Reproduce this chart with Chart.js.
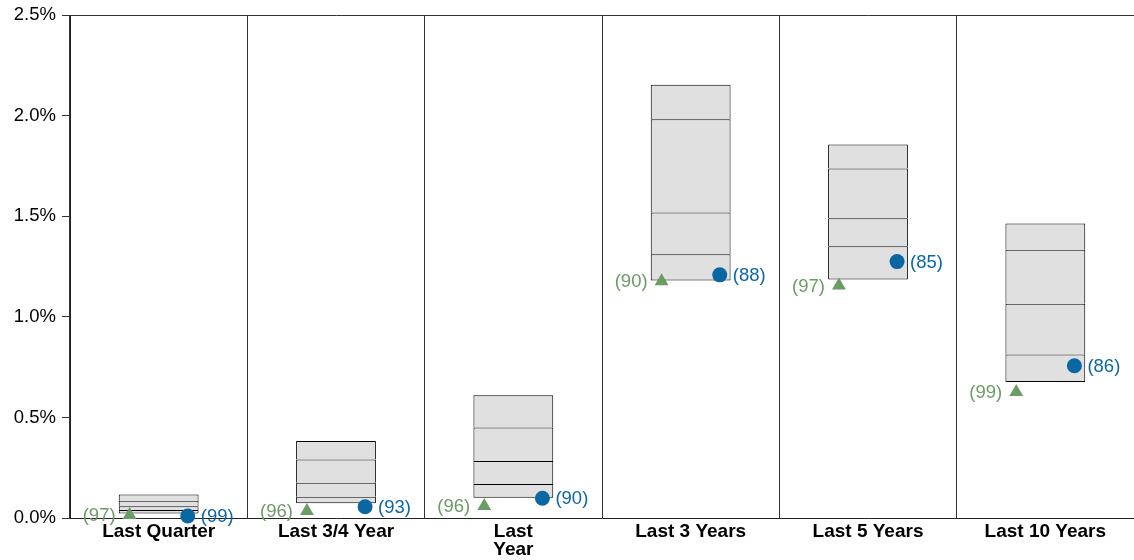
<!DOCTYPE html>
<html>
<head>
<meta charset="utf-8">
<script src="https://cdn.jsdelivr.net/npm/chart.js@4/dist/chart.umd.min.js"></script>
<style>
  html, body { margin: 0; padding: 0; background: #fff; overflow: hidden; }
  canvas { display: block; }
</style>
</head>
<body>
<canvas id="chart" width="1134" height="560"></canvas>
<script>
// periods on the x axis
var categories = ['Last Quarter', 'Last 3/4 Year', ['Last', 'Year'], 'Last 3 Years', 'Last 5 Years', 'Last 10 Years'];
var yTicks = [0, 0.5, 1.0, 1.5, 2.0, 2.5];

// universe percentiles (%)
var p5  = [0.022, 0.073, 0.101, 1.181, 1.186, 0.676];
var p25 = [0.040, 0.106, 0.169, 1.311, 1.351, 0.813];
var p50 = [0.058, 0.175, 0.284, 1.519, 1.490, 1.065];
var p75 = [0.086, 0.291, 0.450, 1.983, 1.738, 1.334];
var p95 = [0.117, 0.383, 0.610, 2.154, 1.857, 1.465];

// benchmark (triangle) and portfolio (circle) values and ranks
var benchValues = [0.015, 0.035, 0.060, 1.177, 1.156, 0.626];
var benchRanks  = [97, 96, 96, 90, 97, 99];
var portValues  = [0.010, 0.056, 0.098, 1.209, 1.275, 0.757];
var portRanks   = [99, 93, 90, 88, 85, 86];

var GREEN = '#6b9c65';
var BLUE = '#0b67a2';
var FONT = "'Liberation Sans', Arial, sans-serif";
var MARK_OFFSET = 0.164;

function segment(lo, hi, first) {
  return {
    type: 'bar',
    data: lo.map(function (v, i) { return [v, hi[i]]; }),
    backgroundColor: '#e0e0e0',
    borderColor: '#000',
    borderWidth: 1,
    borderSkipped: first ? false : 'start',
    grouped: false,
    categoryPercentage: 1,
    barPercentage: 0.45,
    xAxisID: 'x',
    order: 2,
  };
}

function markers(values, ranks, style, color, shift, radius) {
  return {
    type: 'scatter',
    data: values.map(function (v, i) { return { x: i + shift, y: v }; }),
    ranks: ranks,
    pointStyle: style,
    pointRadius: radius,
    pointBackgroundColor: color,
    pointBorderColor: color,
    pointBorderWidth: 0,
    labelColor: color,
    labelSide: shift < 0 ? 'left' : 'right',
    xAxisID: 'x2',
    clip: false,
    order: 0,
  };
}

var rankLabels = {
  id: 'rankLabels',
  afterDatasetsDraw: function (chart) {
    var ctx = chart.ctx;
    ctx.save();
    ctx.font = '18.5px ' + FONT;
    ctx.textBaseline = 'middle';
    chart.data.datasets.forEach(function (ds, di) {
      if (!ds.ranks) return;
      var meta = chart.getDatasetMeta(di);
      ctx.fillStyle = ds.labelColor;
      meta.data.forEach(function (pt, i) {
        var txt = '(' + ds.ranks[i] + ')';
        if (ds.labelSide === 'left') {
          ctx.textAlign = 'right';
          ctx.fillText(txt, pt.x - 14, pt.y + 1);
        } else {
          ctx.textAlign = 'left';
          ctx.fillText(txt, pt.x + 13, pt.y + 1);
        }
      });
    });
    ctx.restore();
  }
};

new Chart(document.getElementById('chart'), {
  type: 'bar',
  data: {
    labels: categories,
    datasets: [
      segment(p5, p25, true),
      segment(p25, p50),
      segment(p50, p75),
      segment(p75, p95),
      markers(benchValues, benchRanks, 'triangle', GREEN, -MARK_OFFSET, 8),
      markers(portValues, portRanks, 'circle', BLUE, MARK_OFFSET, 7.5),
    ],
  },
  options: {
    responsive: false,
    animation: false,
    layout: { autoPadding: false, padding: { top: 11, right: 0, left: 0, bottom: 0 } },
    plugins: { legend: { display: false }, tooltip: { enabled: false } },
    scales: {
      x: {
        type: 'category',
        offset: true,
        grid: { offset: true, color: '#333', lineWidth: 1, drawTicks: false },
        border: { display: true, color: '#222', width: 1 },
        ticks: {
          color: '#000',
          font: { family: FONT, size: 19, weight: 'bold', lineHeight: 0.95 },
          maxRotation: 0,
          autoSkip: false,
          padding: 5,
        },
        afterFit: function (scale) { scale.height = 42; },
      },
      x2: { type: 'linear', display: false, offset: false, min: -0.5, max: 5.5 },
      y: {
        min: 0,
        max: 2.5,
        afterBuildTicks: function (scale) {
          scale.ticks = yTicks.map(function (v) { return { value: v }; });
        },
        grid: {
          color: function (c) { return c.tick && c.tick.value === 2.5 ? '#333' : 'rgba(0,0,0,0)'; },
          tickColor: '#333',
          tickLength: 8,
        },
        border: { display: true, color: '#222', width: 1 },
        ticks: {
          color: '#000',
          font: { family: FONT, size: 18.5, lineHeight: 1 },
          padding: 6,
          callback: function (v) { return Number(v).toFixed(1) + '%'; },
        },
        afterFit: function (scale) { scale.width = 70; },
      },
    },
  },
  plugins: [rankLabels],
});
</script>
</body>
</html>
